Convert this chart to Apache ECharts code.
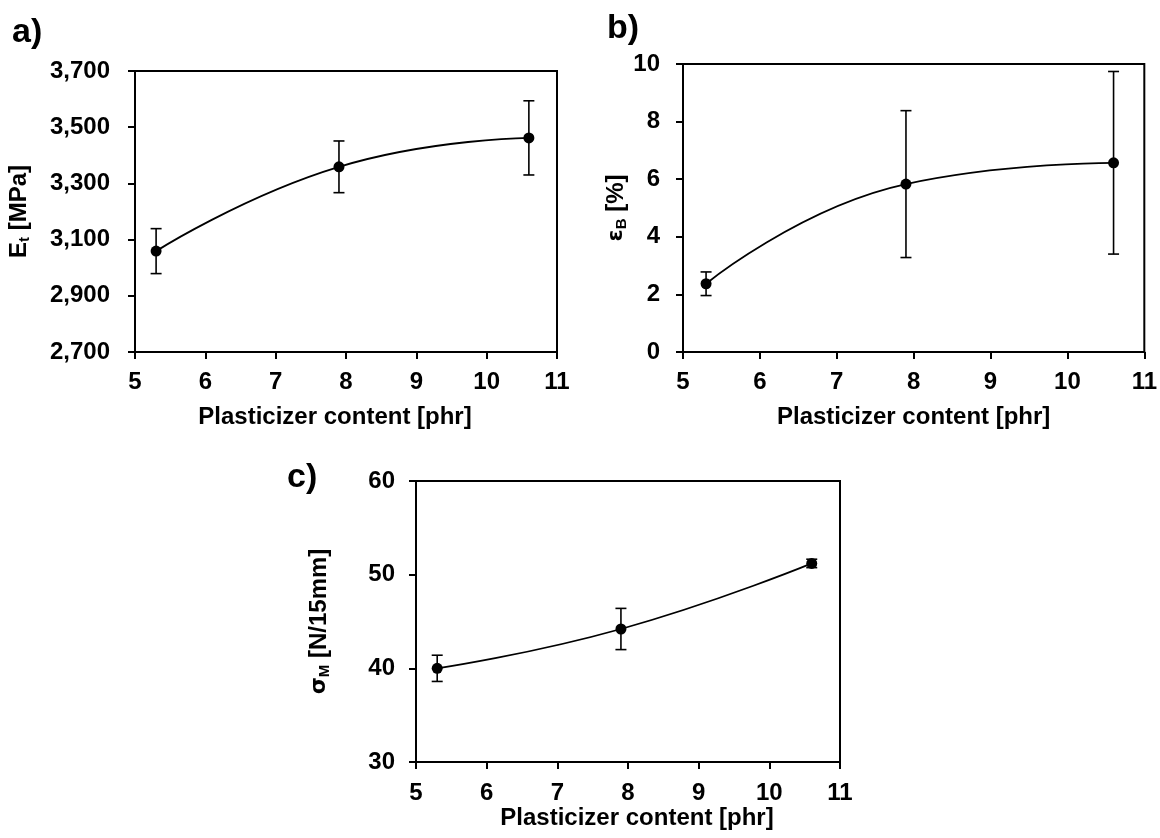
<!DOCTYPE html>
<html>
<head>
<meta charset="utf-8">
<script src="https://cdn.jsdelivr.net/npm/echarts@6/dist/echarts.min.js"></script>
<style>
  html, body { margin: 0; padding: 0; background: #fff; }
  #main { width: 1160px; height: 838px; }
</style>
</head>
<body>
<div id="main"></div>
<script>
// plasticizer content [phr]
var content = [5.3, 7.9, 10.6];

// a) tensile modulus
var modulus = [3059, 3359, 3462];
var modulusErr = [80, 92, 132];

// b) elongation at break
var elongation = [2.37, 5.83, 6.57];
var elongationErr = [0.41, 2.55, 3.17];

// c) max sealing force
var sealForce = [40.0, 44.2, 51.2];
var sealForceErr = [1.4, 2.2, 0.45];

var xTicks = [5, 6, 7, 8, 9, 10, 11];

var chart = echarts.init(document.getElementById('main'), null, { renderer: 'canvas' });

var FONT = 'Liberation Sans, Arial, sans-serif';
var black = '#000';

function pairs(ys, errs) {
    return content.map(function (x, i) { return [x, ys[i], errs ? errs[i] : 0]; });
}

function errorBars(params, api) {
    var x = api.value(0), y = api.value(1), e = api.value(2);
    var top = api.coord([x, y + e]);
    var bot = api.coord([x, y - e]);
    var w = 5.5;
    var st = { stroke: black, lineWidth: 1.6 };
    return {
        type: 'group',
        children: [
            { type: 'line', shape: { x1: top[0], y1: top[1], x2: bot[0], y2: bot[1] }, style: st },
            { type: 'line', shape: { x1: top[0] - w, y1: top[1], x2: top[0] + w, y2: top[1] }, style: st },
            { type: 'line', shape: { x1: bot[0] - w, y1: bot[1], x2: bot[0] + w, y2: bot[1] }, style: st }
        ]
    };
}

function xAxisFor(idx, gap, labelMargin, pad) {
    return {
        type: 'value', gridIndex: idx, min: xTicks[0], max: xTicks[xTicks.length - 1], interval: 1,
        name: 'Plasticizer content [phr]', nameLocation: 'middle', nameGap: gap,
        nameTextStyle: { fontFamily: FONT, fontWeight: 'bold', fontSize: 24, color: black, padding: pad },
        axisLine: { onZero: false, lineStyle: { color: black, width: 2 } },
        axisTick: { inside: false, length: 7, lineStyle: { color: black, width: 2 } },
        axisLabel: { margin: labelMargin, fontFamily: FONT, fontWeight: 'bold', fontSize: 24, color: black },
        splitLine: { show: false }
    };
}

function yAxisFor(idx, min, max, interval, name, gap, labelMargin, fmt) {
    return {
        type: 'value', gridIndex: idx, min: min, max: max, interval: interval,
        name: name, nameLocation: 'middle', nameGap: gap,
        nameTextStyle: {
            fontFamily: FONT, fontWeight: 'bold', fontSize: 24, color: black,
            rich: {
                n: { fontFamily: FONT, fontWeight: 'bold', fontSize: 24, color: black, lineHeight: 26 },
                g: { fontFamily: 'DejaVu Sans, sans-serif', fontSize: 22, color: black, lineHeight: 26 },
                s: { fontFamily: FONT, fontWeight: 'bold', fontSize: 15, color: black, verticalAlign: 'bottom', lineHeight: 18 }
            }
        },
        axisLine: { onZero: false, lineStyle: { color: black, width: 2 } },
        axisTick: { inside: false, length: 7, lineStyle: { color: black, width: 2 } },
        axisLabel: { margin: labelMargin, fontFamily: FONT, fontWeight: 'bold', fontSize: 24, color: black, formatter: fmt },
        splitLine: { show: false }
    };
}

function trend(idx, ys) {
    return {
        type: 'line', xAxisIndex: idx, yAxisIndex: idx, data: pairs(ys),
        smooth: 0.5, symbol: 'circle', symbolSize: 11,
        lineStyle: { color: black, width: 1.8 }, itemStyle: { color: black },
        z: 3, silent: true
    };
}

function bars(idx, ys, errs) {
    return {
        type: 'custom', xAxisIndex: idx, yAxisIndex: idx, data: pairs(ys, errs),
        renderItem: errorBars, z: 2, silent: true
    };
}

var gridStyle = { show: true, borderColor: black, borderWidth: 2, backgroundColor: 'transparent' };

var option = {
    animation: false,
    backgroundColor: '#fff',
    grid: [
        Object.assign({ left: 135, top: 71, width: 422, height: 281 }, gridStyle),
        Object.assign({ left: 683, top: 64, width: 465, height: 288 }, gridStyle),
        Object.assign({ left: 416, top: 481, width: 424, height: 281 }, gridStyle)
    ],
    xAxis: [
        xAxisFor(0, 53, 18, [0, 22, 0, 0]),
        xAxisFor(1, 53, 18, [0, 0, 0, 0]),
        xAxisFor(2, 41, 19, [0, 0, 0, 18])
    ],
    yAxis: [
        yAxisFor(0, 2700, 3700, 200, '{n|E}{s|t}{n| [MPa]}', 103, 25, function (v) { return v.toLocaleString('en-US'); }),
        yAxisFor(1, 0, 10, 2, '{g|ε}{s|B}{n| [%]}', 53, 23),
        yAxisFor(2, 30, 60, 10, '{g|σ}{s|M}{n| [N/15mm]}', 84, 21)
    ],
    graphic: [
        { type: 'text', left: 12, top: 16, style: { text: 'a)', font: 'bold 34px ' + FONT, fill: black } },
        { type: 'text', left: 607, top: 12, style: { text: 'b)', font: 'bold 34px ' + FONT, fill: black } },
        { type: 'text', left: 287, top: 461, style: { text: 'c)', font: 'bold 34px ' + FONT, fill: black } }
    ],
    series: [
        bars(0, modulus, modulusErr), trend(0, modulus),
        bars(1, elongation, elongationErr), trend(1, elongation),
        bars(2, sealForce, sealForceErr), trend(2, sealForce)
    ]
};

chart.setOption(option);
</script>
</body>
</html>
